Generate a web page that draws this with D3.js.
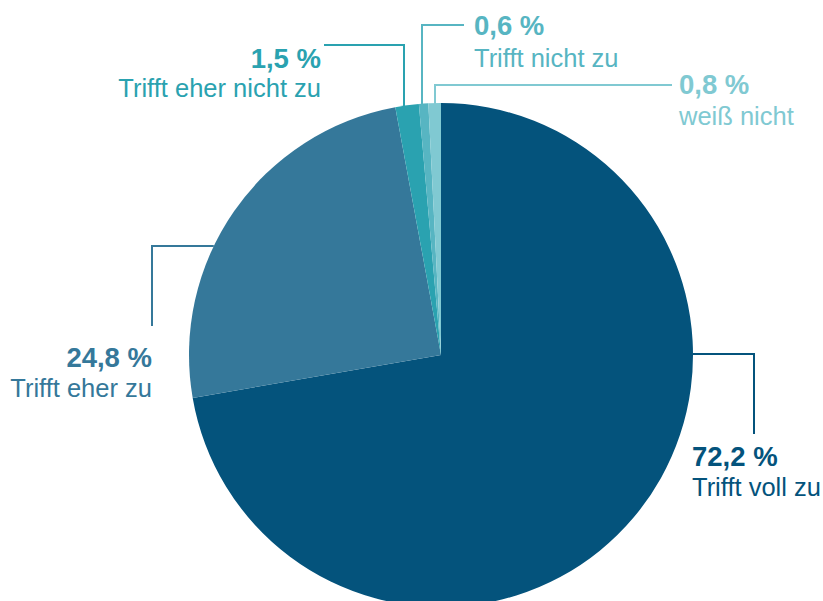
<!DOCTYPE html>
<html><head><meta charset="utf-8">
<script src="https://cdn.jsdelivr.net/npm/d3@7"></script>
<style>html,body{margin:0;padding:0;background:#fff;}svg{display:block;}</style>
</head><body>
<svg id="chart" width="823" height="601"></svg>
<script>
const categories = ["Trifft voll zu", "Trifft eher zu", "Trifft eher nicht zu", "Trifft nicht zu", "weiß nicht"];
const values = [72.2, 24.8, 1.5, 0.6, 0.8];
const valueLabels = ["72,2 %", "24,8 %", "1,5 %", "0,6 %", "0,8 %"];
const colors = ["#04537c", "#35789a", "#2aa2b0", "#57b5c2", "#80c9d2"];

const W = 823, H = 601, cx = 441, cy = 355, R = 252;
const svg = d3.select("#chart");
const g = svg.append("g").attr("transform", `translate(${cx},${cy})`);

const pie = d3.pie().sort(null).value(d => d)(values);
const arc = d3.arc().innerRadius(0).outerRadius(R);
g.selectAll("path").data(pie).enter().append("path")
  .attr("d", arc).attr("fill", (d, i) => colors[i]);

// label layout (leader elbows, text anchors) in screen coords
const layout = [
  {type: "h", y: 354, side: 1, ex: 754, ey2: 434, tx: 692, anchor: "start", b1: 466, b2: 496},
  {type: "h", y: 246, side: -1, ex: 152, ey2: 326, tx: 152, anchor: "end", b1: 367, b2: 397},
  {type: "v", x: 404, ey: 45, ex2: 324, tx: 321, anchor: "end", b1: 68, b2: 97},
  {type: "v", x: 422, ey: 25, ex2: 464, tx: 474, anchor: "start", b1: 35, b2: 67},
  {type: "v", x: 435, ey: 85, ex2: 672, tx: 679, anchor: "start", b1: 94, b2: 125}
];

const lines = svg.append("g");
layout.forEach((L, i) => {
  let pts;
  if (L.type === "h") {
    const px = cx + L.side * Math.sqrt(R * R - (L.y - cy) ** 2);
    pts = [[px, L.y], [L.ex, L.y], [L.ex, L.ey2]];
  } else {
    const py = cy - Math.sqrt(R * R - (L.x - cx) ** 2);
    pts = [[L.x, py + 1], [L.x, L.ey], [L.ex2, L.ey]];
  }
  lines.append("path").attr("d", d3.line()(pts))
    .attr("fill", "none").attr("stroke", colors[i]).attr("stroke-width", 2);
  const t = svg.append("g").attr("fill", colors[i])
    .attr("font-family", "'Liberation Sans', Arial, Helvetica, sans-serif")
    .attr("text-anchor", L.anchor);
  t.append("text").attr("x", L.tx).attr("y", L.b1)
    .attr("font-size", 27.5).attr("font-weight", "bold").text(valueLabels[i]);
  t.append("text").attr("x", L.tx).attr("y", L.b2)
    .attr("font-size", 25.5).text(categories[i]);
});
</script>
</body></html>
